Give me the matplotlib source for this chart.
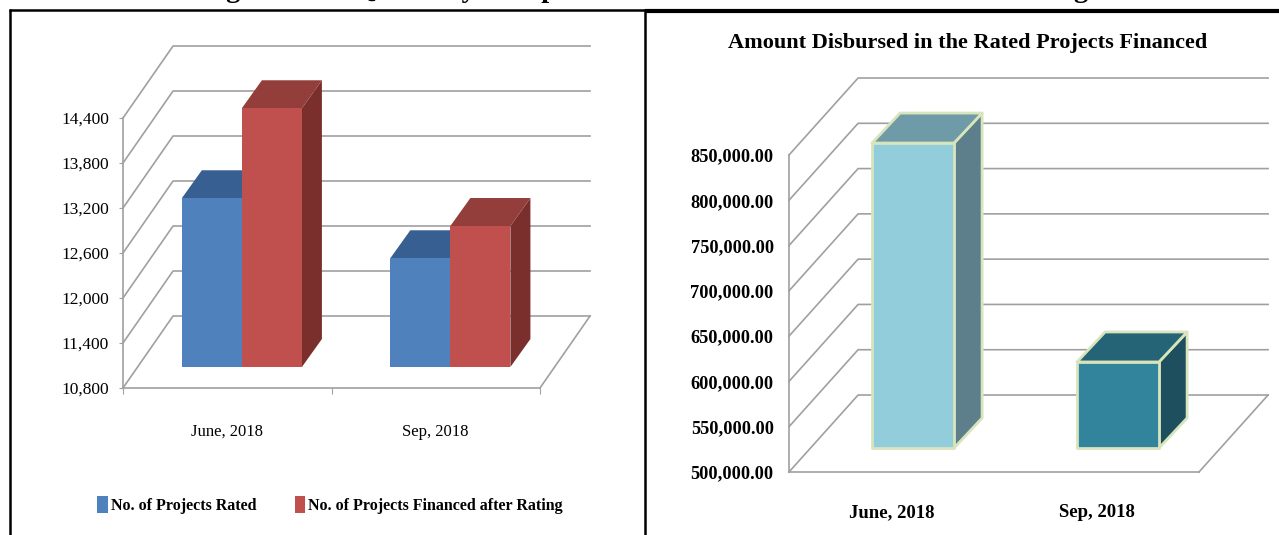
import matplotlib
matplotlib.use('Agg')
import matplotlib.pyplot as plt
from matplotlib.lines import Line2D
from matplotlib.patches import Patch, Polygon

plt.rcParams['font.family'] = ['Liberation Serif', 'DejaVu Serif']

W, H = 1279, 535

periods = ['June, 2018', 'Sep, 2018']
projects_rated = [13050, 12250]
projects_financed = [14250, 12680]
amount_disbursed = [836700, 595000]

left_ticks = [10800, 11400, 12000, 12600, 13200, 13800, 14400]
right_ticks = [500000, 550000, 600000, 650000, 700000, 750000, 800000, 850000]

heading = 'Figure 2.14: Quarterly Comparison of Rated Units Financed after Rating'
right_title = 'Amount Disbursed in the Rated Projects Financed'
legend_labels = ['No. of Projects Rated', 'No. of Projects Financed after Rating']

GRID = '#a0a0a0'


def px_axes(x0, x1, ytop, ybot):
    # axes rectangle given in picture pixels
    return fig.add_axes([x0 / W, 1 - ybot / H, (x1 - x0) / W, (ybot - ytop) / H])


def frame_line(x0, y0, x1, y1, lw):
    fig.add_artist(Line2D([x0 / W, x1 / W], [1 - y0 / H, 1 - y1 / H], color='black', lw=lw,
                          transform=fig.transFigure, solid_capstyle='butt'))


def draw_walls(ax, ticks, dx, dy):
    # gridlines on the side and back wall, then the floor edge
    for t in ticks:
        ax.plot([-0.5, -0.5 + dx, 1.5 + dx], [t, t + dy, t + dy], color=GRID, lw=1.2, zorder=1, clip_on=False)
    ax.plot([1.5, 1.5 + dx], [ticks[0], ticks[0] + dy], color=GRID, lw=1.2, zorder=1, clip_on=False)


def draw_box(ax, x0, width, value, sx, sy, dx, dy, colors, edge=None, lw=0):
    # front, top and side faces of one bar, standing sx/sy into the floor
    base = ax.get_ylim()[0] + sy
    top = value + sy
    xa = x0 + sx
    xb = xa + width
    front = [(xa, base), (xb, base), (xb, top), (xa, top)]
    roof = [(xa, top), (xb, top), (xb + dx, top + dy), (xa + dx, top + dy)]
    side = [(xb, base), (xb + dx, base + dy), (xb + dx, top + dy), (xb, top)]
    for pts, c in zip([side, roof, front], colors):
        ax.add_patch(Polygon(pts, closed=True, facecolor=c, edgecolor=edge if edge else c, lw=lw,
                             zorder=3, clip_on=False, joinstyle='round'))


def style_axes(ax, ticks, tick_len, pad, size, weight):
    ax.set_xlim(-0.5, 1.5)
    ax.set_ylim(ticks[0], ticks[-1])
    ax.patch.set_alpha(0)
    ax.spines['top'].set_visible(False)
    ax.spines['right'].set_visible(False)
    ax.spines['left'].set_color(GRID)
    ax.spines['bottom'].set_color(GRID)
    ax.spines['left'].set_linewidth(1.2)
    ax.spines['bottom'].set_linewidth(1.2)
    ax.set_yticks(ticks)
    ax.tick_params(axis='y', length=tick_len, color=GRID, pad=pad, labelsize=size)
    for lab in ax.get_yticklabels():
        lab.set_fontweight(weight)


fig = plt.figure(figsize=(W / 100, H / 100), dpi=100, facecolor='white')

# left chart
ax1 = px_axes(123, 540, 118, 388)
style_axes(ax1, left_ticks, 3, 7, 12.5, 'normal')
ax1.set_yticklabels([f'{t:,}' for t in left_ticks])
ax1.set_xticks([-0.5, 0.5, 1.5])
ax1.set_xticklabels([])
ax1.tick_params(axis='x', length=4, color=GRID)
ax1.set_xticks([0, 1], labels=periods, minor=True)
ax1.tick_params(axis='x', which='minor', length=0, pad=26, labelsize=12)
draw_walls(ax1, left_ticks, 0.24, 960)

bar_w = 0.288
blue = ['#2f4f76', '#375f92', '#4f81bd']
red = ['#7a2f2d', '#933e3b', '#c0504d']
for i in range(len(periods)):
    draw_box(ax1, i - bar_w, bar_w, projects_rated[i], 0.07, 280, 0.096, 373, blue)
    draw_box(ax1, i, bar_w, projects_financed[i], 0.07, 280, 0.096, 373, red)

handles = [Patch(facecolor=blue[2]), Patch(facecolor=red[2])]
fig.legend(handles, legend_labels, loc='center', bbox_to_anchor=(330 / W, 1 - 505 / H), ncol=2, frameon=False,
           prop={'size': 11.5, 'weight': 'bold'}, handlelength=0.65, handleheight=1.2, handletextpad=0.2,
           columnspacing=2.4, borderpad=0, borderaxespad=0)

# right chart
ax2 = px_axes(789, 1199, 155, 472)
style_axes(ax2, right_ticks, 0, 11, 13.2, 'bold')
ax2.set_yticklabels([f'{t:,.2f}' for t in right_ticks])
ax2.set_xticks([0, 1], labels=periods)
ax2.tick_params(axis='x', length=0, pad=23, labelsize=13.5)
for lab in ax2.get_xticklabels():
    lab.set_fontweight('bold')
draw_walls(ax2, right_ticks, 0.337, 85000)

box_w = 0.4
pale = ['#5d7f8b', '#6f9ba8', '#92cddc']
teal = ['#1d4f5e', '#256476', '#31849b']
for i, c in enumerate([pale, teal]):
    draw_box(ax2, i - box_w / 2, box_w, amount_disbursed[i], 0.105, 26500, 0.137, 33100, c,
             edge='#d8e4bc', lw=2.0)

fig.text(968 / W, 1 - 43 / H, right_title, ha='center', va='center', fontsize=16, fontweight='bold')
# heading is cut by the top edge in the source, only the descenders show
fig.text(645 / W, 1 + 3 / H, heading, ha='center', va='baseline', fontsize=20.4, fontweight='bold')

# table borders
frame_line(9, 9.5, 645, 9.5, 1.8)
frame_line(645, 10.5, W, 10.5, 3)
frame_line(10, 9, 10, H, 1.8)
frame_line(645, 9, 645, H, 1.8)

fig.savefig('out.png', dpi=100, facecolor='white')
